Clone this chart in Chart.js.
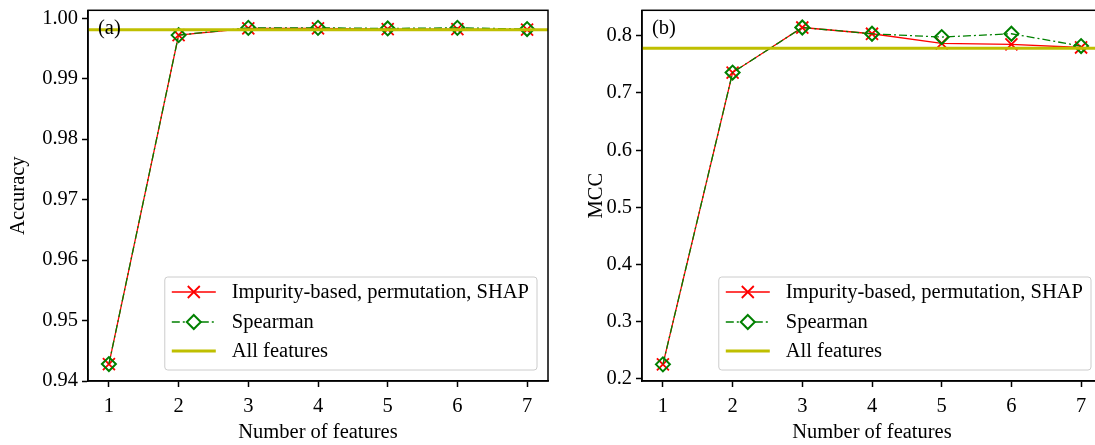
<!DOCTYPE html>
<html>
<head>
<meta charset="utf-8">
<script src="https://cdn.jsdelivr.net/npm/chart.js@4.4.1/dist/chart.umd.min.js"></script>
<style>
  body { margin: 0; width: 1095px; height: 445px; overflow: hidden; background: #fff; position: relative; }
  .panel { position: absolute; top: 0; }
</style>
</head>
<body>
<div class="panel" style="left:0px"><canvas id="accChart" width="560" height="445"></canvas></div>
<div class="panel" style="left:554px"><canvas id="mccChart" width="560" height="445"></canvas></div>
<script>
// datos
const features = [1, 2, 3, 4, 5, 6, 7];
const featureTicks = [1, 2, 3, 4, 5, 6, 7];

const accImpurity = [0.9428, 0.9972, 0.9983, 0.9983, 0.9982, 0.9982, 0.9981];
const accSpearman = [0.9428, 0.9972, 0.9984, 0.9984, 0.9983, 0.9984, 0.9982];
const accAll = 0.9981;
const accTicks = [0.94, 0.95, 0.96, 0.97, 0.98, 0.99, 1.00];

const mccImpurity = [0.2256, 0.7357, 0.8144, 0.8035, 0.7866, 0.7850, 0.7795];
const mccSpearman = [0.2256, 0.7357, 0.8144, 0.8035, 0.7977, 0.8035, 0.7820];
const mccAll = 0.778;
const mccTicks = [0.2, 0.3, 0.4, 0.5, 0.6, 0.7, 0.8];

const legendLabels = ['Impurity-based, permutation, SHAP', 'Spearman', 'All features'];

const xMin = 0.7, xMax = 7.3;
const FONT = "'Liberation Serif', 'DejaVu Serif', serif";
const FSIZE = 20.5;
const RED = '#ff0000', GREEN = '#008000', YELLOW = '#bfbf00';

// marco + etiqueta (a)/(b) + leyenda dentro del area
const framePlugin = {
    id: 'frame',
    afterDraw(chart, args, opts) {
        const { ctx, chartArea: a } = chart;
        ctx.save();
        ctx.strokeStyle = '#000';
        ctx.lineWidth = 1.5;
        ctx.strokeRect(a.left, a.top, a.right - a.left, a.bottom - a.top);

        ctx.fillStyle = '#000';
        ctx.font = FSIZE + 'px ' + FONT;
        ctx.textBaseline = 'middle';
        ctx.textAlign = 'left';
        ctx.fillText(opts.tag, a.left + 10, a.top + 18);

        // leyenda
        let tw = 0;
        legendLabels.forEach(t => { tw = Math.max(tw, ctx.measureText(t).width); });
        const w = 67 + tw + 8, h = 93;
        const x0 = a.right - 11 - w, y0 = a.bottom - 11 - h;
        ctx.beginPath();
        ctx.roundRect(x0, y0, w, h, 3);
        ctx.fillStyle = 'rgba(255,255,255,0.8)';
        ctx.fill();
        ctx.strokeStyle = '#cccccc';
        ctx.lineWidth = 1;
        ctx.stroke();

        const hx1 = x0 + 7, hx2 = x0 + 51, hc = (hx1 + hx2) / 2;
        const rows = [y0 + 15, y0 + 45, y0 + 74];
        // fila 1: rojo con x
        ctx.strokeStyle = RED;
        ctx.lineWidth = 1.3;
        ctx.beginPath(); ctx.moveTo(hx1, rows[0]); ctx.lineTo(hx2, rows[0]); ctx.stroke();
        ctx.lineWidth = 1.8;
        ctx.beginPath();
        ctx.moveTo(hc - 6, rows[0] - 6); ctx.lineTo(hc + 6, rows[0] + 6);
        ctx.moveTo(hc - 6, rows[0] + 6); ctx.lineTo(hc + 6, rows[0] - 6);
        ctx.stroke();
        // fila 2: verde con rombo
        ctx.strokeStyle = GREEN;
        ctx.lineWidth = 1.3;
        ctx.setLineDash([8, 3, 2, 3]);
        ctx.beginPath(); ctx.moveTo(hx1, rows[1]); ctx.lineTo(hc - 7, rows[1]); ctx.moveTo(hc + 7, rows[1]); ctx.lineTo(hx2, rows[1]); ctx.stroke();
        ctx.setLineDash([]);
        ctx.lineWidth = 2;
        ctx.beginPath();
        ctx.moveTo(hc, rows[1] - 7); ctx.lineTo(hc + 7, rows[1]); ctx.lineTo(hc, rows[1] + 7); ctx.lineTo(hc - 7, rows[1]); ctx.closePath();
        ctx.stroke();
        // fila 3: amarillo
        ctx.strokeStyle = YELLOW;
        ctx.lineWidth = 3;
        ctx.beginPath(); ctx.moveTo(hx1, rows[2]); ctx.lineTo(hx2, rows[2]); ctx.stroke();

        ctx.fillStyle = '#000';
        legendLabels.forEach((t, i) => ctx.fillText(t, x0 + 67, rows[i] + 1));
        ctx.restore();
    }
};

function makeChart(id, impurity, spearman, allValue, yTicks, yMin, yMax, yTitle, tag, decimals, titlePad) {
    const ctx = document.getElementById(id).getContext('2d');
    return new Chart(ctx, {
        type: 'line',
        data: {
            datasets: [
                {
                    label: legendLabels[2],
                    data: [{ x: xMin, y: allValue }, { x: xMax, y: allValue }],
                    borderColor: YELLOW,
                    borderWidth: 3,
                    pointRadius: 0,
                    order: 0
                },
                {
                    label: legendLabels[1],
                    data: features.map((f, i) => ({ x: f, y: spearman[i] })),
                    borderColor: GREEN,
                    borderWidth: 1.3,
                    borderDash: [8, 3, 2, 3],
                    pointStyle: 'rectRot',
                    pointRadius: 7,
                    pointBorderWidth: 2,
                    pointBorderColor: GREEN,
                    pointBackgroundColor: 'rgba(0,0,0,0)',
                    order: 1
                },
                {
                    label: legendLabels[0],
                    data: features.map((f, i) => ({ x: f, y: impurity[i] })),
                    borderColor: RED,
                    borderWidth: 1.3,
                    pointStyle: 'crossRot',
                    pointRadius: 8.5,
                    pointBorderWidth: 1.8,
                    pointBorderColor: RED,
                    order: 2
                }
            ]
        },
        options: {
            responsive: false,
            animation: false,
            layout: { padding: { top: 10, right: 12, left: 0, bottom: 0 } },
            plugins: {
                legend: { display: false },
                tooltip: { enabled: false },
                frame: { tag: tag }
            },
            scales: {
                x: {
                    type: 'linear',
                    min: xMin,
                    max: xMax,
                    afterBuildTicks: s => { s.ticks = featureTicks.map(v => ({ value: v })); },
                    afterFit: s => { s.height = 64; s.paddingLeft = 0; s.paddingRight = 0; },
                    grid: { drawOnChartArea: false, drawTicks: true, tickLength: 6, tickWidth: 1.5, tickColor: '#000' },
                    border: { display: true, color: '#000', width: 1.5 },
                    ticks: { color: '#000', font: { family: FONT, size: FSIZE }, padding: 7, maxRotation: 0, callback: v => String(v) },
                    title: { display: true, text: 'Number of features', color: '#000', font: { family: FONT, size: FSIZE }, padding: { top: 0, bottom: 0 } }
                },
                y: {
                    type: 'linear',
                    min: yMin,
                    max: yMax,
                    afterBuildTicks: s => { s.ticks = yTicks.map(v => ({ value: v })); },
                    afterFit: s => { s.width = 88; s.paddingTop = 0; s.paddingBottom = 0; },
                    grid: { drawOnChartArea: false, drawTicks: true, tickLength: 6, tickWidth: 1.5, tickColor: '#000' },
                    border: { display: true, color: '#000', width: 1.5 },
                    ticks: { color: '#000', font: { family: FONT, size: FSIZE }, padding: 4, callback: v => Number(v).toFixed(decimals) },
                    title: { display: true, text: yTitle, color: '#000', font: { family: FONT, size: FSIZE }, padding: { top: titlePad, bottom: 0 } }
                }
            }
        },
        plugins: [framePlugin]
    });
}

makeChart('accChart', accImpurity, accSpearman, accAll, accTicks, 0.94, 1.0013, 'Accuracy', '(a)', 2, 6);
makeChart('mccChart', mccImpurity, mccSpearman, mccAll, mccTicks, 0.1965, 0.8445, 'MCC', '(b)', 1, 30);
</script>
</body>
</html>
